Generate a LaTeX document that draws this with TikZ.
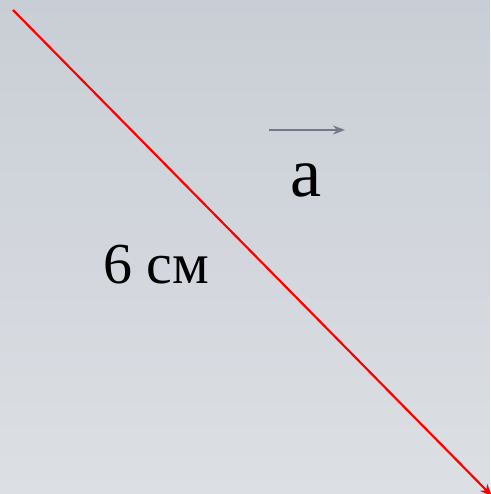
\documentclass[tikz,border=0pt]{standalone}
\usepackage{fontspec}
\setmainfont{Liberation Serif}
\usetikzlibrary{arrows.meta}
\definecolor{bgtop}{RGB}{201,206,214}
\definecolor{bgbottom}{RGB}{220,223,227}
\definecolor{vecgray}{RGB}{112,122,136}
\begin{document}
\begin{tikzpicture}[x=1pt,y=-1pt,
  redline/.style={draw=red, line width=2.2pt, -{Stealth[length=12pt,width=10pt]}},
  vecline/.style={draw=vecgray, line width=2.2pt, -{Stealth[length=12pt,width=9pt]}},
  label/.style={inner sep=0pt, font=\fontsize{58}{60}\selectfont}]
\shade[top color=bgtop, bottom color=bgbottom] (0,0) rectangle (490,494);
\useasboundingbox (0,0) rectangle (490,494);
% diagonal segment
\coordinate (start) at (13,10);
\coordinate (end) at (492,496);
\draw[redline] (start) -- (end);
% vector a
\coordinate (vstart) at (269,130);
\coordinate (vend) at (345,130);
\draw[vecline] (vstart) -- (vend);
\node[label, font=\fontsize{70}{70}\selectfont, anchor=base] (a) at (306,196) {a};
\node[label, anchor=base] (len) at (156,283) {6 см};
\end{tikzpicture}
\end{document}
